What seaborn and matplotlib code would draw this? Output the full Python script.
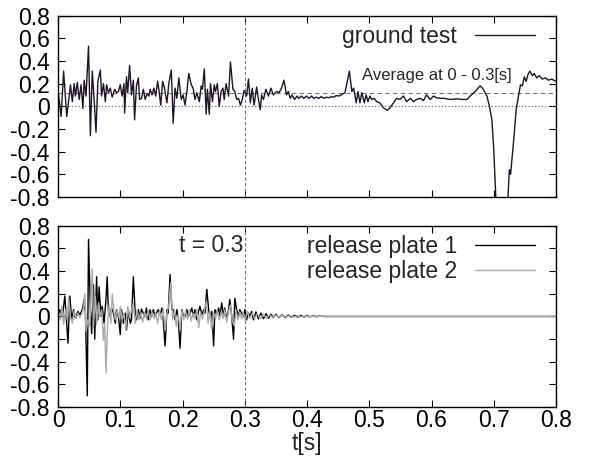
import numpy as np
import pandas as pd
import seaborn as sns
import matplotlib
matplotlib.use('Agg')
import matplotlib.pyplot as plt

# ---- data ----
# ground test signal (top panel)
t_ground = [0.000, 0.005, 0.009, 0.014, 0.018, 0.020, 0.023, 0.026, 0.028, 0.031,
            0.034, 0.037, 0.040, 0.042, 0.045, 0.049, 0.052, 0.055, 0.058, 0.061,
            0.064, 0.068, 0.070, 0.073, 0.076, 0.078, 0.081, 0.084, 0.087, 0.091,
            0.094, 0.097, 0.100, 0.103, 0.106, 0.107, 0.110, 0.112, 0.115, 0.118,
            0.121, 0.123, 0.126, 0.129, 0.131, 0.134, 0.137, 0.140, 0.143, 0.146,
            0.148, 0.151, 0.154, 0.157, 0.160, 0.162, 0.165, 0.168, 0.171, 0.175,
            0.178, 0.182, 0.185, 0.188, 0.191, 0.194, 0.198, 0.201, 0.204, 0.207,
            0.210, 0.214, 0.217, 0.220, 0.223, 0.227, 0.230, 0.232, 0.235, 0.238,
            0.240, 0.243, 0.245, 0.248, 0.251, 0.253, 0.256, 0.259, 0.262, 0.265,
            0.267, 0.270, 0.274, 0.277, 0.281, 0.284, 0.287, 0.290, 0.293, 0.296,
            0.299, 0.303, 0.306, 0.309, 0.312, 0.315, 0.319, 0.322, 0.325, 0.327,
            0.330, 0.334, 0.338, 0.342, 0.346, 0.351, 0.355, 0.359, 0.363, 0.367,
            0.370, 0.373, 0.376, 0.380, 0.384, 0.387, 0.391, 0.395, 0.399, 0.403,
            0.407, 0.411, 0.415, 0.419, 0.423, 0.427, 0.431, 0.435, 0.439, 0.443,
            0.447, 0.451, 0.455, 0.461, 0.468, 0.472, 0.475, 0.479, 0.482, 0.485,
            0.488, 0.492, 0.495, 0.498, 0.501, 0.504, 0.508, 0.512, 0.517, 0.523,
            0.529, 0.533, 0.539, 0.544, 0.549, 0.555, 0.560, 0.566, 0.571, 0.576,
            0.582, 0.587, 0.592, 0.598, 0.603, 0.608, 0.614, 0.620, 0.630, 0.640,
            0.650, 0.657, 0.662, 0.670, 0.678, 0.682, 0.689, 0.693, 0.697, 0.700,
            0.704, 0.712, 0.722, 0.725, 0.727, 0.732, 0.736, 0.740, 0.743, 0.746,
            0.749, 0.752, 0.755, 0.758, 0.762, 0.765, 0.769, 0.773, 0.778, 0.783,
            0.788, 0.793, 0.800]
v_ground = [0.14, -0.09, 0.31, -0.09, 0.09, 0.19, 0.04, 0.20, 0.09, 0.21,
            0.06, 0.19, -0.02, 0.23, 0.09, 0.53, -0.26, 0.31, 0.06, -0.23,
            0.22, 0.32, 0.09, 0.20, 0.04, 0.19, 0.12, 0.16, 0.08, 0.15,
            0.12, 0.13, 0.19, 0.09, 0.20, -0.06, 0.26, 0.12, 0.36, 0.10,
            0.23, -0.12, 0.18, 0.25, 0.06, 0.07, 0.15, 0.06, 0.11, 0.09,
            0.15, 0.10, 0.16, 0.09, 0.22, 0.15, 0.01, 0.22, 0.16, 0.03,
            0.20, 0.32, -0.15, 0.16, 0.07, 0.25, 0.06, 0.10, 0.01, 0.13,
            0.29, 0.19, 0.16, 0.06, 0.12, 0.04, 0.18, 0.15, 0.33, -0.07,
            0.15, -0.07, 0.20, 0.04, 0.19, 0.13, 0.20, 0.00, 0.13, 0.16,
            0.06, 0.20, 0.09, 0.39, 0.15, 0.13, 0.06, 0.07, 0.01, 0.06,
            0.14, 0.09, 0.24, 0.03, 0.16, 0.01, 0.17, 0.06, -0.03, 0.10,
            0.06, 0.15, 0.09, 0.16, 0.10, 0.13, 0.12, 0.16, 0.23, 0.10,
            0.13, 0.07, 0.10, 0.06, 0.09, 0.07, 0.09, 0.07, 0.09, 0.07,
            0.09, 0.07, 0.08, 0.07, 0.085, 0.07, 0.08, 0.075, 0.085, 0.08,
            0.095, 0.09, 0.10, 0.12, 0.31, 0.13, 0.16, 0.03, 0.13, 0.03,
            0.12, 0.03, 0.10, 0.04, 0.09, 0.06, 0.07, 0.04, 0.03, -0.015,
            -0.035, -0.015, 0.03, 0.07, 0.06, 0.09, 0.04, 0.07, 0.04, 0.06,
            0.07, 0.05, 0.10, 0.06, 0.09, 0.075, 0.07, 0.07, 0.06, 0.065,
            0.06, 0.06, 0.09, 0.13, 0.18, 0.16, 0.09, 0.00, -0.12, -0.38,
            -0.90, -1.10, -0.90, -0.56, -0.60, -0.30, -0.03, 0.10, 0.19, 0.18,
            0.26, 0.22, 0.28, 0.31, 0.27, 0.29, 0.25, 0.27, 0.24, 0.25,
            0.23, 0.24, 0.22]
average_0_03 = 0.115

# release plate 1 (bottom panel, black)
t_plate1 = [0.000, 0.003, 0.007, 0.011, 0.016, 0.019, 0.022, 0.025, 0.028, 0.032,
            0.035, 0.039, 0.042, 0.044, 0.047, 0.049, 0.052, 0.054, 0.057, 0.059,
            0.062, 0.064, 0.066, 0.069, 0.071, 0.074, 0.077, 0.079, 0.081, 0.084,
            0.086, 0.089, 0.092, 0.094, 0.097, 0.100, 0.102, 0.105, 0.108, 0.110,
            0.113, 0.116, 0.118, 0.121, 0.124, 0.126, 0.129, 0.132, 0.134, 0.137,
            0.140, 0.142, 0.145, 0.148, 0.150, 0.153, 0.156, 0.158, 0.161, 0.164,
            0.167, 0.169, 0.172, 0.175, 0.177, 0.180, 0.183, 0.185, 0.188, 0.191,
            0.193, 0.196, 0.199, 0.201, 0.204, 0.207, 0.209, 0.212, 0.215, 0.217,
            0.220, 0.223, 0.225, 0.228, 0.231, 0.234, 0.236, 0.239, 0.242, 0.244,
            0.247, 0.250, 0.252, 0.255, 0.258, 0.260, 0.263, 0.266, 0.268, 0.271,
            0.274, 0.276, 0.279, 0.282, 0.284, 0.287, 0.290, 0.292, 0.295, 0.298,
            0.300, 0.303, 0.306, 0.308, 0.311, 0.314, 0.318, 0.322, 0.326, 0.330,
            0.334, 0.338, 0.342, 0.346, 0.350, 0.355, 0.360, 0.365, 0.370, 0.375,
            0.380, 0.385, 0.390, 0.395, 0.400, 0.405, 0.410, 0.415, 0.420, 0.430,
            0.800]
v_plate1 = [0.00, 0.06, 0.00, 0.18, -0.235, 0.18, -0.03, 0.06, -0.015, 0.045,
            0.015, 0.06, 0.15, 0.03, -0.70, 0.68, 0.06, -0.15, 0.28, -0.20,
            0.35, -0.03, 0.26, 0.00, 0.09, -0.06, 0.15, 0.35, 0.045, 0.00,
            0.075, 0.03, -0.06, 0.06, 0.00, -0.16, 0.06, -0.06, 0.03, -0.12,
            0.06, -0.06, -0.03, 0.35, 0.03, -0.03, 0.06, -0.015, 0.065, 0.03,
            0.00, 0.075, -0.03, 0.06, 0.00, 0.06, 0.00, 0.03, 0.06, 0.015,
            0.075, -0.03, -0.26, 0.06, 0.03, 0.37, 0.06, 0.06, -0.03, 0.06,
            -0.015, -0.28, 0.06, 0.015, 0.00, 0.06, 0.00, 0.03, 0.075, 0.00,
            0.06, -0.03, 0.03, 0.09, 0.015, 0.06, 0.03, 0.24, 0.06, 0.00,
            0.045, -0.26, 0.06, 0.03, 0.075, 0.00, 0.12, 0.00, 0.075, -0.03,
            0.065, 0.15, 0.00, -0.20, 0.16, 0.06, 0.00, 0.06, 0.03, 0.00,
            0.06, -0.03, 0.03, 0.00, 0.045, -0.03, 0.04, -0.02, 0.03, -0.02,
            0.025, -0.015, 0.02, -0.01, 0.02, -0.01, 0.015, -0.01, 0.012, -0.005,
            0.01, -0.005, 0.008, -0.004, 0.006, -0.003, 0.005, -0.002, 0.003, 0.00,
            0.00]

# release plate 2 (bottom panel, gray)
t_plate2 = [0.000, 0.004, 0.006, 0.009, 0.012, 0.015, 0.017, 0.020, 0.023, 0.026,
            0.029, 0.032, 0.035, 0.038, 0.041, 0.043, 0.045, 0.048, 0.051, 0.055,
            0.057, 0.060, 0.062, 0.065, 0.067, 0.070, 0.073, 0.075, 0.077, 0.080,
            0.082, 0.085, 0.087, 0.090, 0.092, 0.095, 0.098, 0.100, 0.103, 0.106,
            0.109, 0.112, 0.115, 0.118, 0.121, 0.124, 0.127, 0.130, 0.133, 0.136,
            0.139, 0.142, 0.145, 0.148, 0.151, 0.154, 0.157, 0.160, 0.163, 0.166,
            0.169, 0.172, 0.175, 0.178, 0.181, 0.184, 0.187, 0.190, 0.193, 0.196,
            0.199, 0.202, 0.205, 0.208, 0.211, 0.214, 0.217, 0.220, 0.223, 0.226,
            0.229, 0.232, 0.235, 0.238, 0.241, 0.244, 0.247, 0.250, 0.253, 0.256,
            0.259, 0.262, 0.265, 0.268, 0.271, 0.274, 0.277, 0.280, 0.283, 0.286,
            0.289, 0.292, 0.295, 0.298, 0.301, 0.304, 0.308, 0.312, 0.316, 0.320,
            0.325, 0.330, 0.335, 0.340, 0.345, 0.350, 0.355, 0.360, 0.366, 0.372,
            0.378, 0.384, 0.390, 0.396, 0.402, 0.410, 0.420, 0.800]
v_plate2 = [0.00, -0.03, 0.09, -0.07, 0.06, -0.03, 0.17, 0.00, -0.06, 0.05,
            -0.02, 0.03, -0.01, 0.02, 0.08, 0.20, -0.13, -0.03, -0.09, 0.42,
            -0.09, 0.18, -0.07, 0.12, 0.00, 0.06, -0.21, -0.06, -0.50, -0.03,
            0.10, -0.06, 0.20, 0.03, -0.03, 0.06, -0.01, 0.09, -0.03, 0.03,
            -0.12, 0.09, -0.01, 0.05, 0.12, -0.06, 0.06, -0.03, 0.03, -0.05,
            0.04, -0.02, 0.05, -0.03, 0.04, -0.02, 0.03, -0.06, 0.05, -0.03,
            0.06, -0.12, 0.03, 0.10, 0.30, -0.03, 0.06, -0.09, 0.02, -0.12,
            0.05, -0.03, 0.05, -0.02, 0.06, -0.04, 0.03, -0.02, 0.06, -0.10,
            0.04, -0.02, 0.05, 0.13, -0.06, 0.04, -0.12, 0.03, -0.02, 0.05,
            -0.03, 0.04, -0.02, 0.06, -0.05, 0.05, 0.10, -0.04, -0.08, 0.05,
            -0.03, 0.04, -0.02, 0.03, -0.04, 0.05, -0.02, 0.03, -0.02, 0.025,
            -0.02, 0.02, -0.015, 0.015, -0.01, 0.012, -0.008, 0.01, -0.006, 0.008,
            -0.005, 0.006, -0.004, 0.004, -0.003, 0.002, 0.00, 0.00]

x_ticks = [0, 0.1, 0.2, 0.3, 0.4, 0.5, 0.6, 0.7, 0.8]
y_ticks = [-0.8, -0.6, -0.4, -0.2, 0, 0.2, 0.4, 0.6, 0.8]
t_mark = 0.3

df_ground = pd.DataFrame({'t': t_ground, 'v': v_ground})
df_p1 = pd.DataFrame({'t': t_plate1, 'v': v_plate1})
df_p2 = pd.DataFrame({'t': t_plate2, 'v': v_plate2})

sns.set_style('white')
plt.rcParams['font.family'] = ['Liberation Sans', 'DejaVu Sans']
fs = 16.5

fig = plt.figure(figsize=(5.89, 4.59), dpi=100)
ax1 = fig.add_axes([0.0985, 0.571, 0.8455, 0.395])
ax2 = fig.add_axes([0.0985, 0.113, 0.8455, 0.395])

line_col = '#1e1628'
gray_col = '#aaaaaa'

# top panel
ax1.axhline(0, color='#555555', lw=0.8, ls=(0, (1, 2)))
ax1.axhline(average_0_03, color='#777777', lw=0.8, ls=(0, (4, 3)))
ax1.axvline(t_mark, color='#777777', lw=0.8, ls=(0, (3, 2)))
sns.lineplot(data=df_ground, x='t', y='v', ax=ax1, color=line_col, lw=1.0,
             estimator=None, label='ground test')
ax1.text(0.488, 0.275, 'Average at 0 - 0.3[s]', fontsize=12, ha='left', va='center')

# bottom panel
ax2.axvline(t_mark, color='#777777', lw=0.8, ls=(0, (3, 2)))
sns.lineplot(data=df_p1, x='t', y='v', ax=ax2, color='black', lw=1.0,
             estimator=None, label='release plate 1')
sns.lineplot(data=df_p2, x='t', y='v', ax=ax2, color=gray_col, lw=1.0,
             estimator=None, label='release plate 2')
ax2.text(0.297, 0.63, 't = 0.3', fontsize=fs, ha='right', va='center')

for ax in (ax1, ax2):
    ax.set_xlim(0, 0.8)
    ax.set_ylim(-0.8, 0.8)
    ax.set_xticks(x_ticks)
    ax.set_yticks(y_ticks)
    ax.set_yticklabels(['%g' % v for v in y_ticks], fontsize=fs)
    ax.tick_params(direction='in', length=5, width=0.8, top=True, right=True,
                   left=True, bottom=True, colors='black', labelsize=fs)
    ax.tick_params(axis='y', pad=6)
    ax.tick_params(axis='x', pad=1)
    for s in ax.spines.values():
        s.set_color('black')
        s.set_linewidth(1.0)
    ax.set_ylabel('')
    ax.legend(loc='upper right', bbox_to_anchor=(0.976, 1.0), frameon=False,
              markerfirst=False, fontsize=fs, handlelength=2.6,
              handletextpad=0.8, labelspacing=0.1, borderaxespad=0.0)

ax1.set_xlabel('')
ax1.set_xticklabels([])
ax2.set_xticklabels(['%g' % v for v in x_ticks], fontsize=fs)
ax2.set_xlabel('t[s]', fontsize=fs, labelpad=0)

fig.savefig('out.png', dpi=100)
